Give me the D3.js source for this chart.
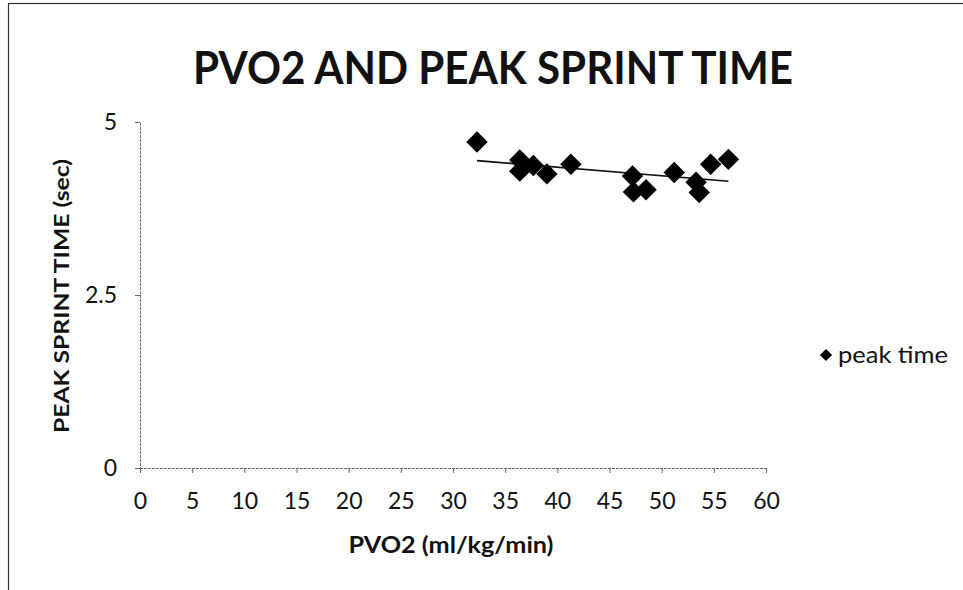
<!DOCTYPE html>
<html><head><meta charset="utf-8">
<script src="https://cdn.jsdelivr.net/npm/d3@7"></script>
<style>body{margin:0;background:#fff}svg{display:block}</style>
</head><body>
<script>
const pvo2 = [32.3, 36.4, 36.4, 37.7, 39.0, 41.3, 47.2, 47.3, 48.5, 51.2, 53.3, 53.6, 54.7, 56.4];
const peakTime = [4.71, 4.45, 4.29, 4.37, 4.25, 4.39, 4.22, 3.99, 4.02, 4.27, 4.13, 3.98, 4.39, 4.46];
const xTicks = [0,5,10,15,20,25,30,35,40,45,50,55,60];
const yTicks = [0, 2.5, 5];
const seriesName = "peak time";

const W = 963, H = 590;
const svg = d3.select("body").append("svg").attr("width", W).attr("height", H);
svg.append("rect").attr("x",8.5).attr("y",3.5).attr("width",W).attr("height",H).attr("fill","#fff").attr("stroke","#333").attr("stroke-width",1.2);

const x = d3.scaleLinear().domain([0,60]).range([140,766]);
const y = d3.scaleLinear().domain([0,5]).range([468,122]);
const font = "Lato, 'Open Sans', sans-serif";

svg.append("text").attr("x",493).attr("y",84).attr("text-anchor","middle")
  .attr("font-family",font).attr("font-weight","bold").attr("font-size",46)
  .attr("textLength",600).attr("lengthAdjust","spacingAndGlyphs").attr("fill","#111")
  .text("PVO2 AND PEAK SPRINT TIME");

const xAxis = svg.append("g").attr("transform",`translate(0,${y(0)})`)
  .call(d3.axisBottom(x).tickValues(xTicks).tickSize(5).tickPadding(20).tickFormat(d3.format("d")));
const yAxis = svg.append("g").attr("transform",`translate(${x(0)},0)`)
  .call(d3.axisLeft(y).tickValues(yTicks).tickSize(5).tickPadding(18).tickFormat(d=>d));
[xAxis,yAxis].forEach(g=>{
  g.select(".domain").attr("stroke","#666").attr("stroke-width",1).attr("stroke-dasharray","3,1");
  g.selectAll(".tick line").attr("stroke","#666");
  g.selectAll("text").attr("font-family",font).attr("font-size",23).attr("fill","#111");
});

svg.append("text").attr("x",451).attr("y",553).attr("text-anchor","middle")
  .attr("font-family",font).attr("font-weight","bold").attr("font-size",22).attr("fill","#111")
  .attr("textLength",205).attr("lengthAdjust","spacingAndGlyphs")
  .text("PVO2 (ml/kg/min)");
svg.append("text").attr("transform","translate(69,296) rotate(-90)").attr("text-anchor","middle")
  .attr("font-family",font).attr("font-weight","bold").attr("font-size",21).attr("fill","#111")
  .attr("textLength",274).attr("lengthAdjust","spacingAndGlyphs")
  .text("PEAK SPRINT TIME (sec)");

// linear trendline
const n = pvo2.length, mx = d3.mean(pvo2), my = d3.mean(peakTime);
let sxy=0,sxx=0; for(let i=0;i<n;i++){sxy+=(pvo2[i]-mx)*(peakTime[i]-my);sxx+=(pvo2[i]-mx)**2;}
const b = sxy/sxx, a = my-b*mx;
const x0 = d3.min(pvo2), x1 = d3.max(pvo2);
svg.append("line").attr("x1",x(x0)).attr("y1",y(a+b*x0)).attr("x2",x(x1)).attr("y2",y(a+b*x1))
  .attr("stroke","#111").attr("stroke-width",1.6);

const diamond = d3.symbol().type(d3.symbolSquare).size(230);
svg.append("g").selectAll("path").data(d3.range(n)).join("path")
  .attr("d",diamond).attr("transform",i=>`translate(${x(pvo2[i])},${y(peakTime[i])}) rotate(45)`)
  .attr("fill","#000");

svg.append("path").attr("d",d3.symbol().type(d3.symbolSquare).size(75)())
  .attr("transform","translate(826,355) rotate(45)").attr("fill","#000");
svg.append("text").attr("x",838).attr("y",363).attr("font-family",font).attr("font-size",23).attr("fill","#111")
  .attr("textLength",110).attr("lengthAdjust","spacingAndGlyphs").text(seriesName);
</script>
</body></html>
